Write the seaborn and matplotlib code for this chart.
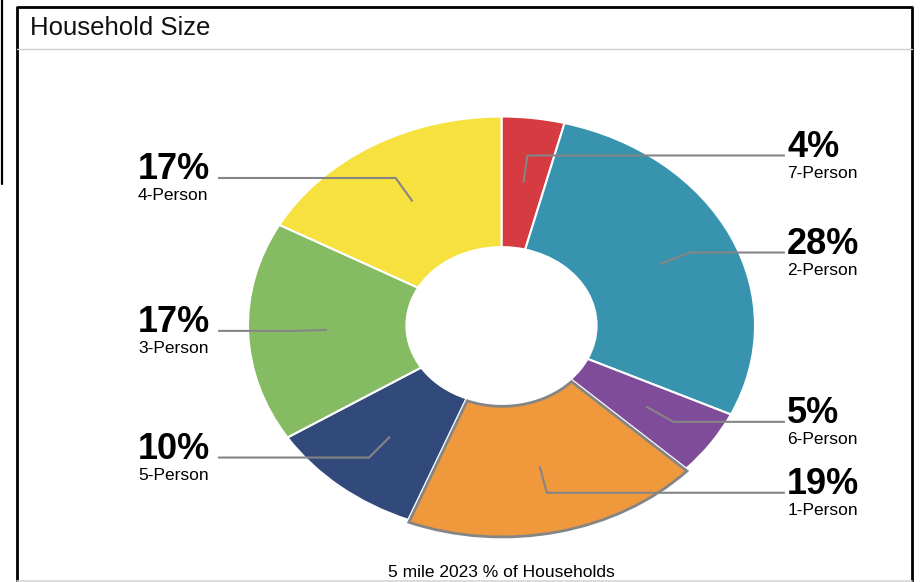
import numpy as np
import seaborn as sns
import matplotlib.pyplot as plt
from matplotlib.lines import Line2D

# Datos (orden horario desde las 12)
categorias = ['7-Person', '2-Person', '6-Person', '1-Person', '5-Person', '3-Person', '4-Person']
porcentajes = [4, 28, 5, 19, 10, 17, 17]
colores = ['#D63B41', '#3893AF', '#7F4C9A', '#F0993C', '#324A7B', '#85BC63', '#F6E13E']
resaltado = '1-Person'
titulo = 'Household Size'
pie_texto = '5 mile 2023 % of Households'

sns.set_style("white")
plt.rcParams['font.family'] = ['Liberation Sans', 'DejaVu Sans']

W, H = 921, 582
fig = plt.figure(figsize=(W / 100, H / 100), dpi=100)

# Marco y cabecera (en pixeles de figura)
def px_line(xs, ys, **kw):
    fig.add_artist(Line2D([x / W for x in xs], [1 - y / H for y in ys],
                          transform=fig.transFigure, **kw))

px_line([1.5, 1.5], [0, 184], color='black', lw=1.6)
px_line([16.5, 16.5, 912, 912], [H, 7, 7, H], color='black', lw=2.0)
px_line([17, 912], [49, 49], color='#cfcfcf', lw=1.0)
fig.text(30 / W, 1 - 35 / H, titulo, fontsize=18.5, color='#111111', va='baseline', ha='left')

# Donut
ax = fig.add_axes([0, 0, 1, 1])
explode = [0.012 if c == resaltado else 0 for c in categorias]
wedges, _ = ax.pie(porcentajes, colors=colores, startangle=90, counterclock=False,
                   explode=explode,
                   wedgeprops=dict(width=0.625, edgecolor='white', linewidth=1.5))
for w, c in zip(wedges, categorias):
    if c == resaltado:
        w.set_edgecolor('#858585')
        w.set_linewidth(2.0)
        w.set_zorder(3)

cx, cy, rx, ry = 501.5, 325.5, 253.5, 209
ax.set_aspect('auto')
ax.set_xlim(-cx / rx, (W - cx) / rx)
ax.set_ylim(-(H - cy) / ry, cy / ry)
ax.axis('off')

# Etiquetas con lineas guia
for w, c, p in zip(wedges, categorias, porcentajes):
    ang = np.deg2rad((w.theta1 + w.theta2) / 2)
    xa, ya = 0.69 * np.cos(ang), 0.69 * np.sin(ang)
    xe, ye = 0.82 * np.cos(ang), 0.82 * np.sin(ang)
    if np.cos(ang) > 0:
        xfin, xtxt = 1.118, 1.127
    else:
        xfin, xtxt = -1.118, -1.434
    ax.plot([xa, xe, xfin], [ya, ye, ye], color='#858585', lw=1.5, zorder=4,
            solid_capstyle='butt')
    ax.annotate(f'{p}%', (xtxt, ye), xytext=(0, -1), textcoords='offset points',
                fontsize=26, fontweight='bold', color='black', ha='left', va='baseline')
    ax.annotate(c, (xtxt, ye), xytext=(0, -16), textcoords='offset points',
                fontsize=12.5, color='black', ha='left', va='baseline')

# Texto inferior
fig.text(cx / W, 5 / H, pie_texto, fontsize=12.5, color='black', ha='center', va='baseline')
px_line([17, 912], [580.5, 580.5], color='#d5d5d5', lw=1.2, zorder=10)

plt.savefig('out.png', dpi=100)
